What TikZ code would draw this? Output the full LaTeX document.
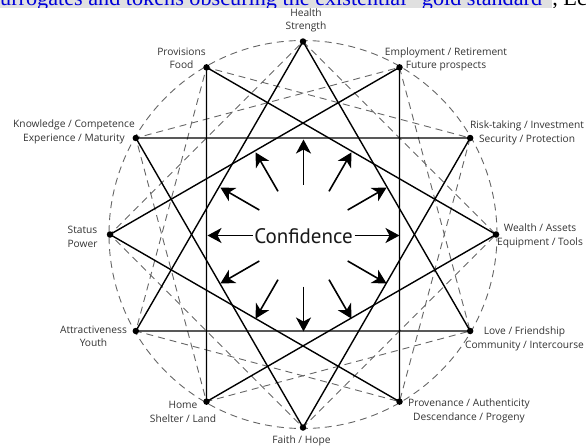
\documentclass[tikz,border=0pt]{standalone}
\usepackage{fontspec}
\setmainfont{Liberation Serif}
\newfontfamily\etifont{Open Sans}
\newfontfamily\centrofont{PT Sans}
\usetikzlibrary{arrows.meta, backgrounds}

\tikzset{
  etichetta/.style={font=\etifont\fontsize{10.2}{13.5}\selectfont, text=black!80, align=center, inner sep=0pt},
  triangolo/.style={line width=1.4pt, black},
  quadrato/.style={line width=0.9pt, black!60, dash pattern=on 7pt off 5pt},
  freccia/.style={line width=1.6pt, -{Stealth[length=14pt,width=15pt,inset=4pt]}},
  punto/.style={circle, fill=black, inner sep=0pt, minimum size=6.5pt},
}

\begin{document}
\begin{tikzpicture}[x=1pt, y=-1pt]
\useasboundingbox (0,0) rectangle (586,447);

% Striscia tagliata in alto
\begin{scope}
\clip (0,0) rectangle (586,7.5);
\node[anchor=base west, inner sep=0pt, font=\fontsize{22.2}{22.2}\selectfont, text=blue!85!black] (titolo) at (0,5.5)
  {\smash{urrogates and tokens obscuring the existential “gold standard”}};
\node[anchor=base west, inner sep=0pt, font=\fontsize{22.2}{22.2}\selectfont] (coda) at (titolo.base east) {\smash{, Ec}};
\begin{scope}[on background layer]
\fill[black!12] (0,0) rectangle (titolo.east |- 0,7.5);
\end{scope}
\end{scope}

% Dodici punti sul cerchio
\foreach \k in {0,...,11}
  \coordinate (p\k) at ({303+193*cos(90-30*\k)}, {234.5-193*sin(90-30*\k)});

% Cerchio e quadrati tratteggiati
\draw[quadrato] (303,234.5) circle (194);
\foreach \k [evaluate=\k as \ka using int(\k+3),
             evaluate=\k as \kb using int(\k+6),
             evaluate=\k as \kc using int(\k+9)] in {0,1,2}
  \draw[quadrato] (p\k) -- (p\ka) -- (p\kb) -- (p\kc) -- cycle;

% Triangoli
\foreach \k [evaluate=\k as \ka using int(\k+4),
             evaluate=\k as \kb using int(\k+8)] in {0,...,3}
  \draw[triangolo] (p\k) -- (p\ka) -- (p\kb) -- cycle;

% Punti
\foreach \k in {0,...,11}
  \node[punto] (d\k) at (p\k) {};

% Centro e frecce
\node[font=\centrofont\fontsize{21}{21}\selectfont, text=black!90, inner sep=0pt] (conf) at (303.5,236) {Confidence};
\foreach \k in {0,...,11} {
  \coordinate (a\k) at ({303.5+51*cos(30*\k)}, {235.5-51*sin(30*\k)});
  \coordinate (b\k) at ({303.5+96*cos(30*\k)}, {235.5-96*sin(30*\k)});
  \draw[freccia] (a\k) -- (b\k);
}

% Etichette
\node[etichetta] (l0) at (306,20.5) {Health\\Strength};
\node[etichetta] (l1) at (446,59.5) {Employment / Retirement\\Future prospects};
\node[etichetta] (l2) at (527,133) {Risk-taking / Investment\\Security / Protection};
\node[etichetta] (l3) at (540,236) {Wealth / Assets\\Equipment / Tools};
\node[etichetta] (l4) at (524.5,339) {Love / Friendship\\Community / Intercourse};
\node[etichetta] (l5) at (469,411) {Provenance / Authenticity\\Descendance / Progeny};
\node[etichetta] (l6) at (301.5,441) {Faith / Hope};
\node[etichetta] (l7) at (183,412) {Home\\Shelter / Land};
\node[etichetta] (l8) at (93.5,336.3) {Attractiveness\\Youth};
\node[etichetta] (l9) at (82.5,236.7) {Status\\Power};
\node[etichetta] (l10) at (74,131.7) {Knowledge / Competence\\Experience / Maturity};
\node[etichetta] (l11) at (181.5,58.5) {Provisions\\Food};
\end{tikzpicture}
\end{document}
